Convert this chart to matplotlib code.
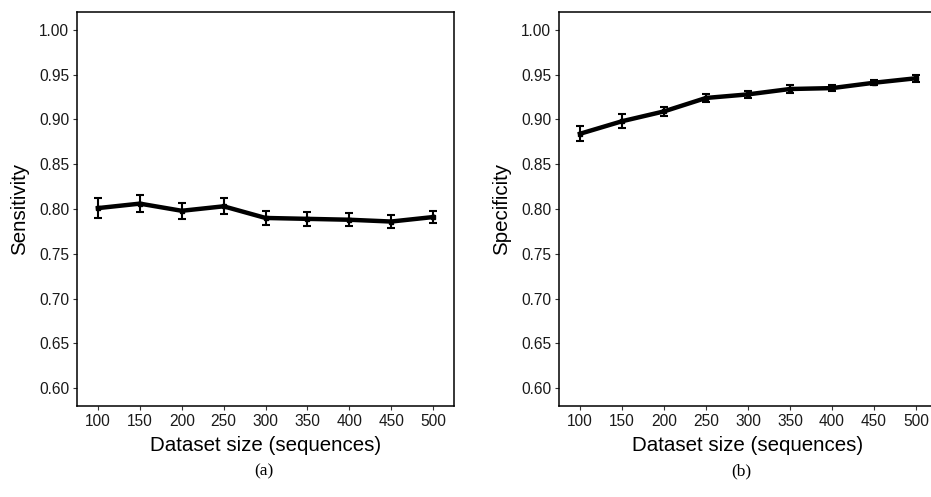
import numpy as np
import matplotlib.pyplot as plt

plt.rcParams["font.family"] = ["Liberation Sans", "DejaVu Sans"]

# dataset sizes (number of sequences)
sizes = [100, 150, 200, 250, 300, 350, 400, 450, 500]

# mean sensitivity / specificity with error bar half widths
sens = [0.801, 0.806, 0.798, 0.803, 0.790, 0.789, 0.788, 0.786, 0.791]
sens_err = [0.011, 0.0095, 0.009, 0.009, 0.008, 0.0075, 0.007, 0.0075, 0.007]
spec = [0.884, 0.898, 0.909, 0.924, 0.928, 0.934, 0.935, 0.941, 0.946]
spec_err = [0.0085, 0.008, 0.005, 0.0045, 0.004, 0.004, 0.0035, 0.003, 0.004]

yticks = [0.60, 0.65, 0.70, 0.75, 0.80, 0.85, 0.90, 0.95, 1.00]

W, H = 931, 497
fig = plt.figure(figsize=(W / 100, H / 100), dpi=100)
ax1 = fig.add_axes([77 / W, (H - 406) / H, 377 / W, 394 / H])
ax2 = fig.add_axes([559 / W, (H - 406) / H, 378 / W, 394 / H])


def panel(ax, y, err, ylabel):
    ax.errorbar(sizes, y, yerr=err, color="black", linewidth=3.2,
                elinewidth=1.5, capsize=3.2, capthick=1.5,
                marker="s", markersize=3.5)
    ax.set_xlim(75, 525)
    ax.set_ylim(0.58, 1.02)
    ax.set_xticks(sizes)
    ax.set_yticks(yticks)
    ax.set_yticklabels([f"{v:.2f}" for v in yticks])
    ax.tick_params(labelsize=11.2, colors="#333333", length=3, width=0.8,
                   labelcolor="#1a1a1a", pad=2.5)
    for s in ax.spines.values():
        s.set_linewidth(1.1)
        s.set_color("black")
    ax.set_xlabel("Dataset size (sequences)", fontsize=14.8, labelpad=5)
    ax.set_ylabel(ylabel, fontsize=14.8, labelpad=7)


panel(ax1, sens, sens_err, "Sensitivity")
panel(ax2, spec, spec_err, "Specificity")

fig.text(264 / W, 1 - 471 / H, "(a)", family="Liberation Serif",
         fontsize=12.5, ha="center", va="center")
fig.text(741 / W, 1 - 471 / H, "(b)", family="Liberation Serif",
         fontsize=12.5, ha="center", va="center")

fig.savefig("out.png", dpi=100)
